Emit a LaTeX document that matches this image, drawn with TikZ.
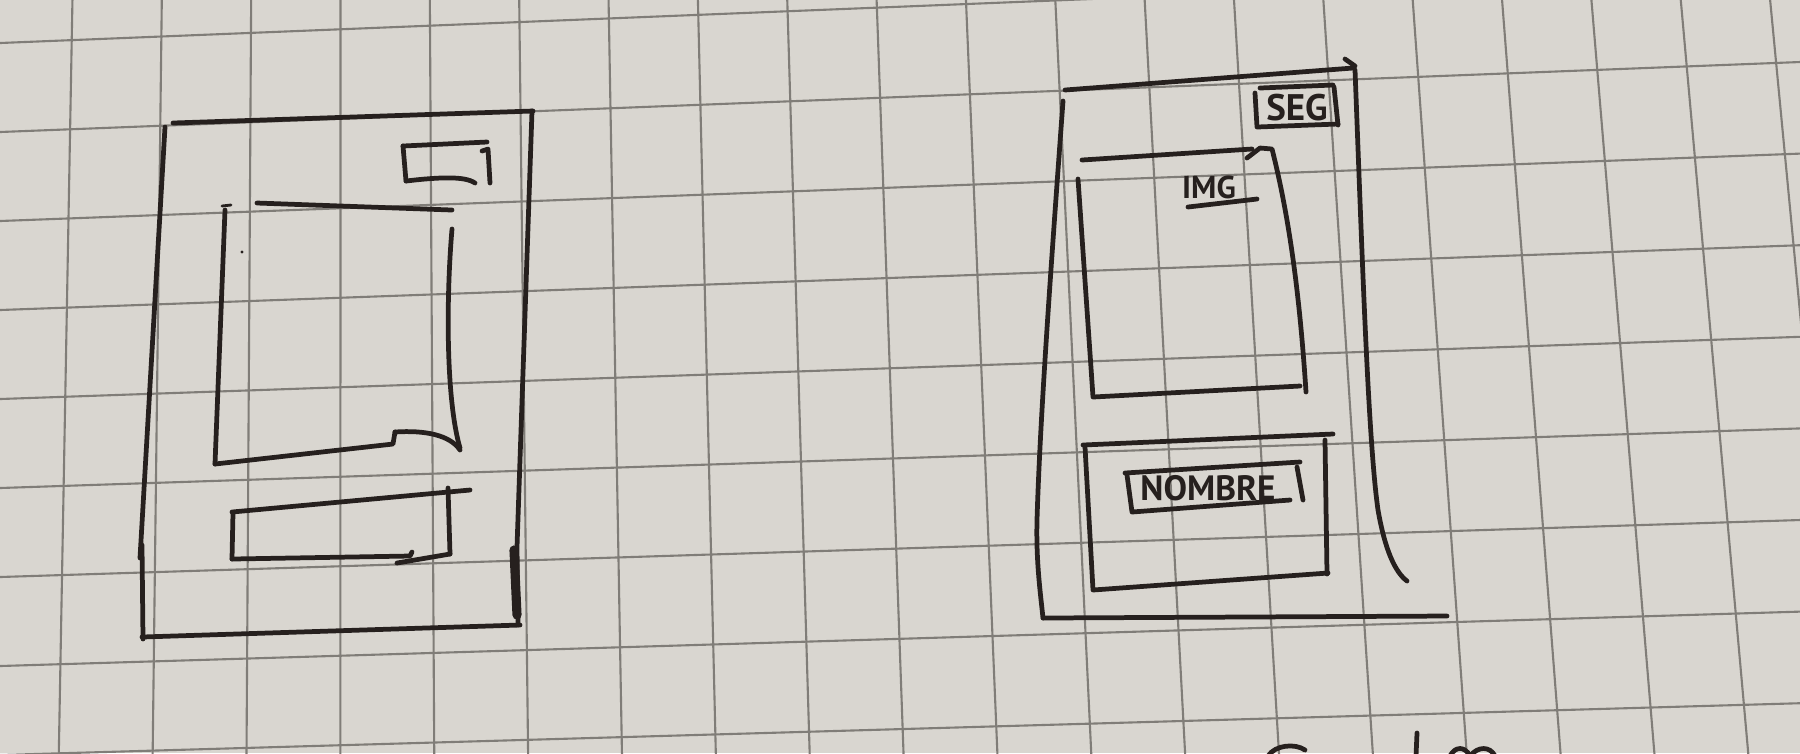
\documentclass[tikz,border=0pt]{standalone}
\usepackage{fontspec}
\setmainfont{PT Sans}
\definecolor{paper}{RGB}{217,214,208}
\definecolor{gridc}{RGB}{128,125,120}
\definecolor{inkc}{RGB}{38,32,30}
\begin{document}
\begin{tikzpicture}[x=0.01cm,y=-0.01cm,line join=round,line cap=round,
  ink/.style={draw=inkc,line width=1.35pt},
  gridline/.style={draw=gridc,line width=0.6pt},
  hand/.style={text=inkc,inner sep=0pt,font=\bfseries\fontsize{#1}{#1}\selectfont}]
% sheet of squared paper
\fill[paper] (0,0) rectangle (1800,753);
\useasboundingbox (0,0) rectangle (1800,753);
\begin{scope}
\clip (0,0) rectangle (1800,753);
% vertical rulings, fanning out slightly towards the bottom
\foreach \k in {0,...,20}{
  \pgfmathsetmacro\xt{72+89.5*\k}
  \pgfmathsetmacro\xb{343+(\xt-343)*1.047}
  \pgfmathsetmacro\dx{(\xb-\xt)/703}
  \draw[gridline] ({\xt-45*\dx},-20) -- ({\xb+45*\dx},773);
}
% horizontal rulings, rising to the right
\foreach \j in {0,...,8}{
  \pgfmathsetmacro\yl{43+89*\j}
  \pgfmathsetmacro\yr{-29.6+91.6*\j}
  \draw[gridline] (0,\yl) -- (1800,\yr);
}
\end{scope}

% ---------- first screen ----------
% outer frame
\draw[ink] (173,123) -- (533,111);
\draw[ink] (165,127) -- (140,558);
\draw[ink] (142,545) -- (143,639);
\draw[ink] (142,637) -- (520,625);
\draw[ink] (532,111) -- (517,547) -- (518,625);
\draw[ink,line width=2.6pt] (514,550) -- (517,615);
% small button top right
\draw[ink] (403,146) -- (487,142);
\draw[ink] (403,146) -- (406,181);
\draw[ink] (406,181) .. controls (440,177) and (465,176) .. (475,183);
\draw[ink] (482,151) -- (488,149) -- (490,183);
% picture area
\draw[ink,line width=0.8pt] (222,206) -- (231,205);
\draw[ink] (257,203) -- (452,210);
\draw[ink] (225,210) -- (215,464);
\draw[ink] (452,229) .. controls (446,300) and (446,400) .. (460,448);
\draw[ink] (215,464) -- (393,444) -- (395,432);
\draw[ink] (395,432) .. controls (425,430) and (450,435) .. (460,450);
\fill[inkc] (242,252) circle (1.6);
% bar at the bottom
\draw[ink] (232,512) -- (470,490);
\draw[ink] (233,513) -- (232,559);
\draw[ink] (232,559) -- (410,556) -- (412,552);
\draw[ink] (397,563) -- (450,554);
\draw[ink] (448,488) -- (450,554);

% ---------- second screen ----------
% outer frame
\draw[ink] (1065,90) -- (1353,68);
\draw[ink] (1345,59) -- (1355,66);
\draw[ink] (1063,101) .. controls (1050,280) and (1040,420) .. (1037,520)
                      .. controls (1036,560) and (1040,590) .. (1043,618);
\draw[ink] (1043,618) -- (1447,616);
\draw[ink] (1355,70) .. controls (1362,250) and (1368,440) .. (1378,510)
                     .. controls (1385,550) and (1395,572) .. (1407,581);
% SEG button
\draw[ink] (1260,88) -- (1333,85);
\draw[ink] (1255,93) -- (1257,127) -- (1338,124);
\draw[ink] (1334,87) -- (1338,125);
\node[hand=10.5] (seg) at (1297,108) {SEG};
% image area
\draw[ink] (1082,160) -- (1252,149);
\draw[ink] (1247,158) -- (1260,148) -- (1272,149)
           .. controls (1290,220) and (1300,300) .. (1306,392);
\draw[ink] (1078,179) -- (1093,397) -- (1300,386);
\node[hand=9] (img) at (1209,187) {IMG};
\coordinate (imgU1) at (1188,207);
\coordinate (imgU2) at (1257,199);
\draw[ink] (imgU1) -- (imgU2);
% name panel
\draw[ink] (1083,445) -- (1333,434);
\draw[ink] (1085,447) -- (1093,590) -- (1328,573);
\draw[ink] (1325,440) -- (1327,574);
\draw[ink] (1125,473) -- (1300,462);
\draw[ink] (1127,475) -- (1132,512) -- (1290,500);
\draw[ink] (1297,467) -- (1303,500);
\node[hand=10] (nombre) at (1208,488) {NOMBRE};

% handwriting cut off at the lower edge
\draw[ink] (1268,756) .. controls (1275,745) and (1295,743) .. (1305,750);
\draw[ink] (1417,733) -- (1416,756);
\draw[ink] (1450,756) .. controls (1455,746) and (1465,746) .. (1470,756);
\draw[ink] (1470,756) .. controls (1478,746) and (1490,746) .. (1495,756);
\end{tikzpicture}
\end{document}
